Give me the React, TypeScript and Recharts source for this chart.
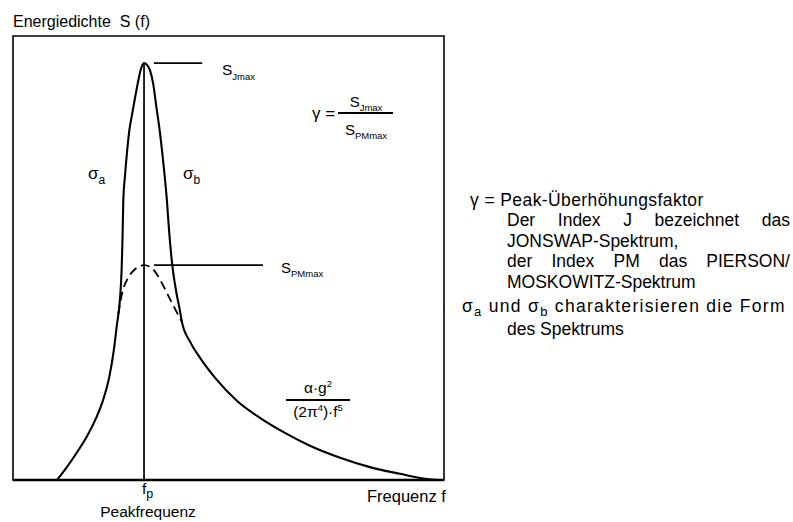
import React from "react";
import { LineChart, Line, XAxis, YAxis, ReferenceLine, ReferenceArea } from "recharts";

// JONSWAP spectrum (solid), frequency in % of axis width, energy density in % of axis height
const fJ = [10.2, 12.5, 14.9, 17.2, 19.3, 20.9, 22.3, 23.4, 24.1, 24.8, 25.2, 25.4, 25.6, 26.0, 26.5, 27.0, 27.6, 28.3, 29.0, 29.6, 30.4, 31.1, 31.8, 32.5, 33.2, 34.1, 35.0, 35.7, 36.2, 36.9, 37.8, 38.7, 39.2, 41.1, 43.4, 46.9, 52.0, 57.3, 63.1, 68.9, 75.9, 82.8, 89.8, 95.6, 99.1];
const sJ = [0, 2.9, 6.3, 9.9, 14.0, 18.0, 23.0, 29.3, 34.9, 40.5, 47.3, 54.1, 63.1, 68.7, 74.3, 78.8, 82.2, 86.0, 89.6, 92.3, 93.9, 93.5, 92.2, 89.4, 84.5, 78.2, 70.3, 63.1, 56.3, 48.9, 42.8, 38.3, 35.6, 31.1, 27.5, 23.0, 17.8, 14.0, 10.6, 7.7, 5.0, 2.9, 1.4, 0.3, 0];

// Pierson/Moskowitz spectrum (dashed part around the peak)
const fPM = [24.4, 25.5, 26.7, 28.1, 29.5, 30.4, 31.8, 33.2, 34.8, 36.4, 38.1, 39.2];
const sPM = [37.3, 42.8, 45.5, 47.3, 48.2, 48.4, 48.0, 46.6, 43.9, 40.8, 37.6, 35.6];

const fp = 30.4;
const sJmax = 93.9;
const sPMmax = 48.4;

const jonswap = fJ.map((f, i) => ({ f, s: sJ[i] }));
const pm = fPM.map((f, i) => ({ f, s: sPM[i] }));

const FONT = "'Liberation Sans', Arial, Helvetica, sans-serif";
const INK = "#000";

type TxtProps = { x: number; y: number; size: number; center?: boolean; spacing?: number; children: React.ReactNode };
const Txt = ({ x, y, size, center, spacing, children }: TxtProps) => (
  <div
    style={{
      position: "absolute",
      left: x,
      top: y - size * 0.55,
      fontSize: size,
      lineHeight: 1.1,
      whiteSpace: "nowrap",
      letterSpacing: spacing,
      transform: center ? "translateX(-50%)" : undefined,
      color: INK,
    }}
  >
    {children}
  </div>
);

const Sub = ({ children, size, drop = 0.45 }: { children: React.ReactNode; size: number; drop?: number }) => (
  <span style={{ fontSize: size, position: "relative", top: size * drop, lineHeight: 0 }}>{children}</span>
);

const Justified = ({ x, y, w, size, words }: { x: number; y: number; w: number; size: number; words: React.ReactNode[] }) => (
  <div
    style={{
      position: "absolute",
      left: x,
      top: y - size * 0.55,
      width: w,
      fontSize: size,
      lineHeight: 1.1,
      display: "flex",
      justifyContent: "space-between",
      color: INK,
      whiteSpace: "nowrap",
    }}
  >
    {words.map((t, i) => (
      <span key={i}>{t}</span>
    ))}
  </div>
);

export default function App() {
  return (
    <div style={{ position: "absolute", left: 0, top: 0, width: 793, height: 522, background: "#fff", fontFamily: FONT }}>
      <LineChart width={793} height={522} margin={{ top: 36, right: 349, bottom: 42, left: 13 }}>
        <XAxis type="number" dataKey="f" domain={[0, 100]} hide allowDataOverflow />
        <YAxis type="number" domain={[0, 100]} hide allowDataOverflow />
        <ReferenceArea x1={0} x2={100} y1={0} y2={100} fill="none" stroke={INK} strokeWidth={1.6} ifOverflow="visible" />
        <ReferenceLine y={0} stroke={INK} strokeWidth={2.6} ifOverflow="visible" />
        <ReferenceLine segment={[{ x: fp, y: 0 }, { x: fp, y: sJmax }]} stroke={INK} strokeWidth={1.7} />
        <ReferenceLine segment={[{ x: 32.7, y: sJmax }, { x: 43.9, y: sJmax }]} stroke={INK} strokeWidth={1.6} />
        <ReferenceLine segment={[{ x: 32.7, y: sPMmax }, { x: 58.0, y: sPMmax }]} stroke={INK} strokeWidth={1.6} />
        <Line data={jonswap} dataKey="s" type="monotone" stroke={INK} strokeWidth={2.1} dot={false} isAnimationActive={false} />
        <Line data={pm} dataKey="s" type="monotone" stroke={INK} strokeWidth={1.8} strokeDasharray="9 5" dot={false} isAnimationActive={false} />
      </LineChart>

      <Txt x={13} y={22} size={16}>Energiedichte&nbsp;&nbsp;S (f)</Txt>

      <Txt x={222} y={70} size={15.5}>S<Sub size={9.5}>Jmax</Sub></Txt>

      <Txt x={312} y={114} size={17}>γ =</Txt>
      <Txt x={366} y={102} size={15} center>S<Sub size={9.5}>Jmax</Sub></Txt>
      <div style={{ position: "absolute", left: 338, top: 112, width: 55, height: 1.5, background: INK }} />
      <Txt x={366} y={130} size={15} center>S<Sub size={9.5}>PMmax</Sub></Txt>

      <Txt x={88} y={174} size={17}>σ<Sub size={12}>a</Sub></Txt>
      <Txt x={183} y={174} size={17}>σ<Sub size={12}>b</Sub></Txt>

      <Txt x={281} y={268} size={15}>S<Sub size={9.5}>PMmax</Sub></Txt>

      <Txt x={318} y={388} size={15.5} center>α·g<sup style={{ fontSize: 9.5 }}>2</sup></Txt>
      <div style={{ position: "absolute", left: 286, top: 399, width: 64, height: 1.5, background: INK }} />
      <Txt x={318} y={412} size={15.5} center>(2π<sup style={{ fontSize: 9.5 }}>4</sup>)·f<sup style={{ fontSize: 9.5 }}>5</sup></Txt>

      <Txt x={142} y={489} size={15.5}>f<Sub size={12.5} drop={0.3}>p</Sub></Txt>
      <Txt x={148} y={512} size={15.5} center>Peakfrequenz</Txt>
      <Txt x={367} y={496} size={16.5}>Frequenz f</Txt>

      <Txt x={470} y={201} size={17.5} spacing={0.4}>γ = Peak-Überhöhungsfaktor</Txt>
      <Justified x={507} y={221} w={283} size={17.5} words={["Der", "Index", "J", "bezeichnet", "das"]} />
      <Txt x={507} y={242} size={17.5}>JONSWAP-Spektrum,</Txt>
      <Justified x={507} y={262} w={283} size={17.5} words={["der", "Index", "PM", "das", "PIERSON/"]} />
      <Txt x={507} y={283} size={17.5}>MOSKOWITZ-Spektrum</Txt>
      <Txt x={462} y={307} size={17.5} spacing={1.3}>
        σ<Sub size={13} drop={0.3}>a</Sub> und σ<Sub size={13} drop={0.3}>b</Sub> charakterisieren die Form
      </Txt>
      <Txt x={507} y={330} size={17.5}>des Spektrums</Txt>
    </div>
  );
}
